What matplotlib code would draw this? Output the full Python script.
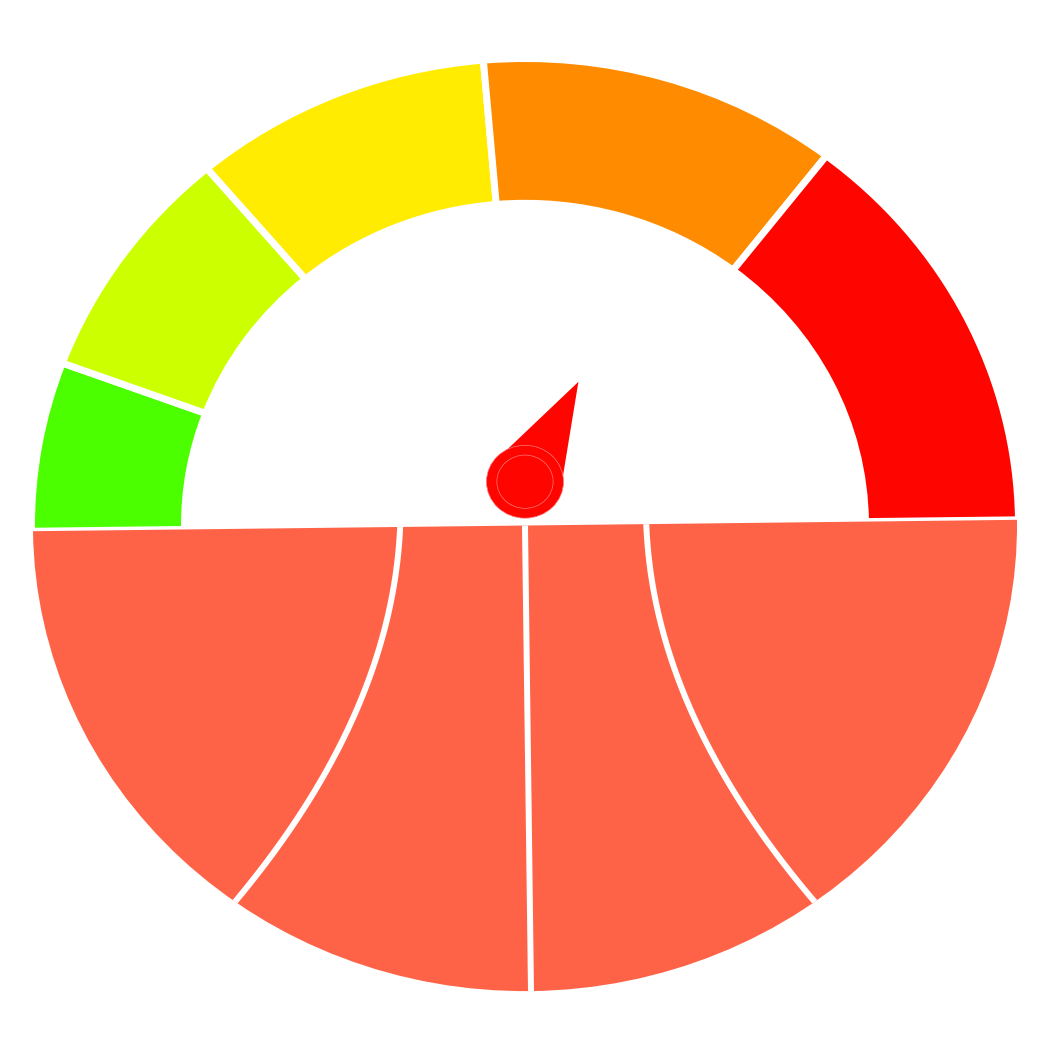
import numpy as np
import matplotlib
matplotlib.use("Agg")
import matplotlib.pyplot as plt
import matplotlib.transforms as mtransforms
from matplotlib.patches import Circle, Polygon


# -------------------------------------------------
# DATA
# -------------------------------------------------
# gauge bands, share of a 0-100 scale, left to right
band_sizes = [11.7, 16.4, 19.6, 23.6, 28.7]
band_colors = ["#4cff00", "#ccff00", "#ffec00", "#ff8c00", "#ff0500"]

# needle reading on the same scale
needle_value = 65.3
needle_color = "#ff0500"

# lower half: three dividers (offset from the centre line and how much they bend)
divider_start = [-0.252, 0.0, 0.245]
divider_bend = [-0.467, 0.0, 0.476]
lower_color = "tomato"

tilt_deg = 0.7


# -------------------------------------------------
# GAUGE
# -------------------------------------------------
fig = plt.figure(figsize=(10.52, 10.48), dpi=100)
ax = fig.add_axes([0, 0, 1, 1])

sizes = band_sizes + [sum(band_sizes)]
colors = band_colors + [lower_color]

wedges, _ = ax.pie(
    sizes,
    colors=colors,
    startangle=180 + tilt_deg,
    counterclock=False,
    radius=1.0,
    wedgeprops=dict(width=0.31, edgecolor="white", linewidth=5)
)

# the lower half is a full wedge without an outline
lower = wedges[-1]
lower.set_width(None)
lower.set_radius(0.997)
lower.set_linewidth(0)
lower.set_edgecolor("none")

# dividers in the lower half
rot = mtransforms.Affine2D().rotate_deg(tilt_deg) + ax.transData

for x0, k in zip(divider_start, divider_bend):
    if k == 0:
        line, = ax.plot([x0, x0], [0.05, -1.05], color="white", lw=4.3,
                        solid_capstyle="butt", transform=rot, zorder=3)
    else:
        ys = np.linspace(0.05, -1.05, 200)
        xs = x0 + k * (ys - 0.042) ** 2
        line, = ax.plot(xs, ys, color="white", lw=4.3,
                        solid_capstyle="butt", zorder=3)
    line.set_clip_path(lower)


# -------------------------------------------------
# NEEDLE
# -------------------------------------------------
hub = np.array([0.0, 0.0938])
hub_r = 0.078
needle_len = 0.2398

ang = np.radians(180 + tilt_deg - needle_value / 100 * 180)
tip = hub + needle_len * np.array([np.cos(ang), np.sin(ang)])
side = hub_r * np.array([-np.sin(ang), np.cos(ang)])

ax.add_patch(Polygon([hub + side, tip, hub - side], closed=True,
                     facecolor=needle_color, edgecolor="none", zorder=5))
ax.add_patch(Circle(hub, hub_r, facecolor=needle_color,
                    edgecolor="#ff7a7a", lw=0.5, zorder=6))
ax.add_patch(Circle(hub, 0.057, facecolor=needle_color,
                    edgecolor="#ff7a7a", lw=0.5, zorder=7))

ax.set_aspect("auto")
ax.set_xlim(-1.0638, 1.0679)
ax.set_ylim(-1.1188, 1.1253)
ax.axis("off")

fig.savefig("out.png", dpi=100)
